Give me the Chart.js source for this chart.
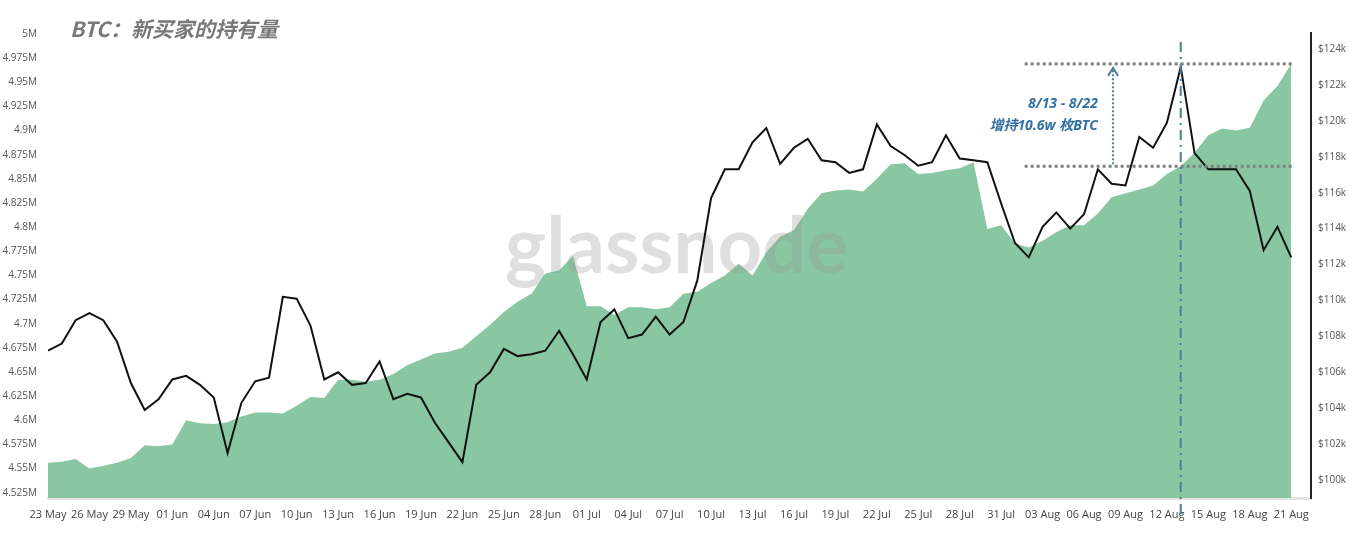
<!DOCTYPE html>
<html>
<head>
<meta charset="utf-8">
<script src="https://cdn.jsdelivr.net/npm/chart.js@4.4.1/dist/chart.umd.min.js"></script>
<style>
  html, body { margin: 0; padding: 0; background: #fff; }
  #wrap { position: relative; width: 1353px; height: 540px; }
  #title {
    position: absolute; left: 70px; top: 13px;
    font: italic bold 21px "Noto Sans CJK SC", sans-serif;
    color: #787878; white-space: nowrap;
  }
</style>
</head>
<body>
<div id="wrap">
  <canvas id="chart" width="1353" height="540"></canvas>
  <div id="title">BTC：新买家的持有量</div>
</div>
<script>
// daily values, 23 May .. 21 Aug (91 days)
const holdersM = [
  4.556, 4.557, 4.560, 4.550, 4.553, 4.556, 4.561, 4.574, 4.573, 4.575,
  4.600, 4.597, 4.596, 4.598, 4.604, 4.608, 4.608, 4.607, 4.615, 4.624,
  4.623, 4.642, 4.642, 4.640, 4.642, 4.648, 4.657, 4.663, 4.669, 4.671,
  4.675, 4.687, 4.699, 4.712, 4.723, 4.731, 4.752, 4.755, 4.770, 4.718,
  4.718, 4.709, 4.717, 4.717, 4.715, 4.717, 4.731, 4.733, 4.742, 4.750,
  4.762, 4.750, 4.774, 4.790, 4.797, 4.819, 4.835, 4.838, 4.839, 4.837,
  4.850, 4.865, 4.866, 4.855, 4.856, 4.859, 4.861, 4.867, 4.798, 4.802,
  4.783, 4.779, 4.786, 4.795, 4.802, 4.802, 4.814, 4.831, 4.835, 4.839,
  4.843, 4.855, 4.863, 4.877, 4.895, 4.902, 4.900, 4.903, 4.931, 4.946,
  4.969
];
const priceK = [
  107.2, 107.6, 108.9, 109.3, 108.9, 107.7, 105.4, 103.9, 104.5, 105.6,
  105.8, 105.3, 104.6, 101.5, 104.3, 105.5, 105.7, 110.2, 110.1, 108.6,
  105.6, 106.0, 105.3, 105.4, 106.6, 104.5, 104.8, 104.6, 103.2, 102.1,
  101.0, 105.3, 106.0, 107.3, 106.9, 107.0, 107.2, 108.3, 107.0, 105.6,
  108.8, 109.5, 107.9, 108.1, 109.1, 108.1, 108.8, 111.1, 115.7, 117.3,
  117.3, 118.8, 119.6, 117.6, 118.5, 119.0, 117.8, 117.7, 117.1, 117.3,
  119.8, 118.6, 118.1, 117.5, 117.7, 119.2, 117.9, 117.8, 117.7, 115.4,
  113.2, 112.4, 114.1, 114.9, 114.0, 114.8, 117.3, 116.5, 116.4, 119.1,
  118.5, 119.9, 123.0, 118.2, 117.3, 117.3, 117.3, 116.1, 112.8, 114.1,
  112.4
];
const tickDays = [0, 3, 6, 9, 12, 15, 18, 21, 24, 27, 30, 33, 36, 39, 42, 45,
  48, 51, 54, 57, 60, 63, 66, 69, 72, 75, 78, 81, 84, 87, 90];
const tickLabels = ["23 May", "26 May", "29 May", "01 Jun", "04 Jun", "07 Jun",
  "10 Jun", "13 Jun", "16 Jun", "19 Jun", "22 Jun", "25 Jun", "28 Jun", "01 Jul",
  "04 Jul", "07 Jul", "10 Jul", "13 Jul", "16 Jul", "19 Jul", "22 Jul", "25 Jul",
  "28 Jul", "31 Jul", "03 Aug", "06 Aug", "09 Aug", "12 Aug", "15 Aug", "18 Aug",
  "21 Aug"];
const leftTicks = [4.525, 4.55, 4.575, 4.6, 4.625, 4.65, 4.675, 4.7, 4.725, 4.75,
  4.775, 4.8, 4.825, 4.85, 4.875, 4.9, 4.925, 4.95, 4.975, 5];
const rightTicks = [100, 102, 104, 106, 108, 110, 112, 114, 116, 118, 120, 122, 124];

// annotated window: 8/13 (day 82) to the last day
const markStart = 82;
const noteLines = ["8/13 - 8/22", "增持10.6w 枚BTC"];

const FONT = '"Open Sans", "Noto Sans CJK SC", sans-serif';
const GREEN = "rgb(137, 199, 162)";

const overlay = {
  id: "overlay",
  afterDatasetDraw(chart, args) {
    if (args.index !== 0) return;
    const { ctx, chartArea } = chart;
    ctx.save();
    ctx.font = '700 60px Lato, sans-serif';
    const w = ctx.measureText("glassnode").width;
    const size = 60 * 343 / w;
    ctx.font = '700 ' + size + 'px Lato, sans-serif';
    ctx.fillStyle = "rgba(150, 150, 150, 0.3)";
    ctx.textAlign = "center";
    ctx.textBaseline = "alphabetic";
    ctx.fillText("glassnode", (chartArea.left + chartArea.right) / 2 - 3, chartArea.top + 240);
    ctx.restore();
  },
  afterDraw(chart) {
    const { ctx, chartArea } = chart;
    const x = chart.scales.x, yL = chart.scales.yL;
    const last = holdersM.length - 1;
    const yTop = yL.getPixelForValue(holdersM[last]);
    const yBot = yL.getPixelForValue(holdersM[markStart]);
    const xL = x.getPixelForValue(70.7);
    const xR = x.getPixelForValue(last) + 2;
    ctx.save();
    // dotted level lines
    ctx.strokeStyle = "#7f7f7f";
    ctx.lineWidth = 3;
    ctx.setLineDash([3, 3]);
    [yTop, yBot].forEach(y => {
      ctx.beginPath();
      ctx.moveTo(xL, y);
      ctx.lineTo(xR, y);
      ctx.stroke();
    });
    // dash-dot marker on 8/13
    const xv = x.getPixelForValue(markStart);
    ctx.strokeStyle = "#4d7f9c";
    ctx.lineWidth = 2;
    ctx.setLineDash([10, 5, 2, 5]);
    ctx.beginPath();
    ctx.moveTo(xv, chartArea.top + 9);
    ctx.lineTo(xv, chartArea.bottom + 17);
    ctx.stroke();
    // dotted arrow
    const xa = x.getPixelForValue(77.1);
    ctx.strokeStyle = "#4f8098";
    ctx.setLineDash([2, 2]);
    ctx.beginPath();
    ctx.moveTo(xa, yBot - 2);
    ctx.lineTo(xa, yTop + 6);
    ctx.stroke();
    ctx.setLineDash([]);
    ctx.beginPath();
    ctx.moveTo(xa - 5, yTop + 12);
    ctx.lineTo(xa, yTop + 4);
    ctx.lineTo(xa + 5, yTop + 12);
    ctx.stroke();
    // note text
    const xt = x.getPixelForValue(76);
    ctx.fillStyle = "#2f6fa3";
    ctx.font = 'italic bold 14px ' + FONT;
    ctx.textAlign = "right";
    ctx.textBaseline = "middle";
    ctx.fillText(noteLines[0], xt, yTop + 40);
    ctx.fillText(noteLines[1], xt, yTop + 62);
    ctx.restore();
  }
};

new Chart(document.getElementById("chart"), {
  type: "line",
  data: {
    datasets: [
      {
        label: "Holders",
        data: holdersM.map((v, i) => ({ x: i, y: v })),
        yAxisID: "yL",
        order: 2,
        fill: "start",
        backgroundColor: GREEN,
        borderWidth: 0,
        pointRadius: 0,
        tension: 0,
      },
      {
        label: "Price",
        data: priceK.map((v, i) => ({ x: i, y: v })),
        yAxisID: "yR",
        order: 1,
        fill: false,
        borderColor: "#111",
        borderWidth: 2,
        pointRadius: 0,
        tension: 0,
      },
    ],
  },
  options: {
    responsive: false,
    animation: false,
    layout: { padding: { top: 33, left: 0, right: 0, bottom: 0 } },
    plugins: { legend: { display: false }, tooltip: { enabled: false } },
    scales: {
      x: {
        type: "linear",
        min: 0,
        max: 91.43,
        afterBuildTicks: s => { s.ticks = tickDays.map(v => ({ value: v })); },
        afterFit: s => { s.height = 42; },
        grid: { display: false, drawTicks: false },
        border: { display: true, color: "#e4e4e4", width: 3 },
        ticks: {
          callback: (v, i) => tickLabels[i],
          autoSkip: false,
          maxRotation: 0,
          padding: 10,
          color: "#444",
          font: { size: 11, family: FONT },
        },
      },
      yL: {
        position: "left",
        min: 4.5195,
        max: 5.001,
        afterBuildTicks: s => { s.ticks = leftTicks.map(v => ({ value: v })); },
        afterFit: s => { s.width = 48; },
        grid: { display: false, drawTicks: false },
        border: { display: false },
        ticks: {
          callback: v => +v.toFixed(3) + "M",
          padding: 11,
          color: "#555",
          font: { size: 10, family: FONT },
        },
      },
      yR: {
        position: "right",
        min: 99.0,
        max: 124.89,
        afterBuildTicks: s => { s.ticks = rightTicks.map(v => ({ value: v })); },
        afterFit: s => { s.width = 42; },
        grid: { display: false, drawTicks: false },
        border: { display: true, color: "#222", width: 2 },
        ticks: {
          callback: v => "$" + v + "k",
          padding: 7,
          color: "#555",
          font: { size: 10, family: FONT },
        },
      },
    },
  },
  plugins: [overlay],
});
</script>
</body>
</html>
